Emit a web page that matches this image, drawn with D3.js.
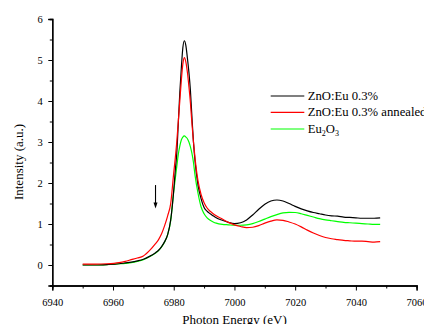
<!DOCTYPE html>
<html><head><meta charset="utf-8">
<script src="https://cdn.jsdelivr.net/npm/d3@7"></script>
<style>
html,body{margin:0;padding:0;background:#fff;}
svg{display:block;}
svg text{font-family:'Liberation Serif','Times New Roman','DejaVu Serif',serif !important;}
</style></head>
<body>
<script>
const energy = [6950,6954,6958,6962,6964,6966,6968,6970,6972,6974,6975,6976,6977,6978,6979,6980,6980.5,6981,6981.5,6982,6982.5,6983,6983.5,6984,6984.5,6985,6985.5,6986,6986.5,6987,6988,6989,6990,6991,6992,6993,6994,6996,6998,7000,7002,7004,7006,7008,7010,7012,7014,7016,7018,7020,7022,7024,7026,7028,7030,7032,7034,7036,7038,7040,7042,7044,7046,7048];
const znoEu = [0.00,0.00,0.01,0.03,0.05,0.07,0.10,0.14,0.21,0.30,0.36,0.45,0.57,0.74,1.10,1.82,2.3,2.72,3.45,4.2,4.8,5.3,5.47,5.35,5.05,4.7,4.25,3.6,3.0,2.55,1.95,1.62,1.40,1.31,1.25,1.20,1.15,1.09,1.04,1.01,1.03,1.10,1.22,1.36,1.48,1.56,1.585,1.56,1.50,1.43,1.37,1.32,1.28,1.25,1.22,1.20,1.19,1.17,1.16,1.15,1.14,1.14,1.14,1.15];
const znoEuAnnealed = [0.02,0.02,0.03,0.06,0.09,0.13,0.17,0.22,0.35,0.52,0.62,0.76,0.96,1.2,1.5,2.25,2.6,3.0,3.5,4.0,4.5,4.9,5.06,4.95,4.7,4.35,3.95,3.45,3.0,2.62,2.05,1.72,1.52,1.39,1.31,1.25,1.20,1.12,1.04,0.98,0.94,0.91,0.92,0.96,1.02,1.07,1.10,1.09,1.05,1.00,0.93,0.85,0.78,0.72,0.67,0.64,0.62,0.60,0.59,0.58,0.58,0.57,0.56,0.57];
const eu2o3 = [0.00,0.00,0.01,0.03,0.04,0.06,0.09,0.13,0.20,0.29,0.35,0.44,0.56,0.74,1.08,1.8,2.1,2.4,2.7,2.9,3.05,3.12,3.15,3.12,3.08,3.0,2.88,2.72,2.5,2.2,1.75,1.42,1.25,1.15,1.09,1.05,1.02,0.99,0.98,0.97,0.97,0.98,1.01,1.06,1.12,1.18,1.23,1.27,1.285,1.28,1.25,1.21,1.17,1.13,1.10,1.08,1.06,1.04,1.03,1.02,1.01,1.00,0.99,0.99];
const seriesNames = ["ZnO:Eu 0.3%","ZnO:Eu 0.3% annealed","Eu2O3"];
const seriesColors = ["#000000","#ff0000","#00ff00"];
const xTicks = [6940,6960,6980,7000,7020,7040,7060];
const yTicks = [0,1,2,3,4,5,6];
const arrowX = 6974, arrowY = [1.95, 1.38];

const W=424,H=324;
const svg=d3.select("body").append("svg").attr("width",W).attr("height",H);
const x=d3.scaleLinear().domain([6940,7060]).range([52.3,416.6]);
const y=d3.scaleLinear().domain([-0.5,6]).range([285.5,19]);

// axes
const xAxis=svg.append("g").attr("transform","translate(0,285.5)");
xAxis.call(d3.axisBottom(x).tickValues(xTicks).tickSize(5).tickFormat(d3.format("d")));
xAxis.append("g").call(d3.axisBottom(x).tickValues(d3.range(6950,7060,20)).tickSize(3).tickFormat(""));
const yAxis=svg.append("g").attr("transform","translate(52.3,0)");
yAxis.call(d3.axisLeft(y).tickValues(yTicks).tickSize(4).tickFormat(d3.format("d")));
yAxis.append("g").call(d3.axisLeft(y).tickValues(d3.range(-0.5,6,1)).tickSize(2.5).tickFormat(""));
svg.selectAll("g").attr("font-family",null);
svg.selectAll(".domain").attr("stroke","#000").attr("stroke-width",1.3);
svg.selectAll(".tick line").attr("stroke","#000").attr("stroke-width",1);
svg.selectAll(".tick text").attr("font-size",10.5).attr("fill","#000");
xAxis.selectAll(".tick text").attr("dy","1.15em");
yAxis.selectAll(".tick text").attr("dx","-0.25em");

// lines
const all=[znoEu,znoEuAnnealed,eu2o3];
const line=d3.line().x((d,i)=>x(energy[i])).y(d=>y(d)).curve(d3.curveMonotoneX);
[2,0,1].forEach(k=>{
  svg.append("path").datum(all[k]).attr("d",line).attr("fill","none")
    .attr("stroke",seriesColors[k]).attr("stroke-width",1.2);
});

// arrow
svg.append("line").attr("x1",x(arrowX)).attr("x2",x(arrowX)).attr("y1",y(arrowY[0])).attr("y2",y(arrowY[1])-4)
  .attr("stroke","#000").attr("stroke-width",1.1);
const ax=x(arrowX), ay=y(arrowY[1]);
svg.append("path").attr("d",`M${ax-2},${ay-6}L${ax+2},${ay-6}L${ax},${ay}Z`).attr("fill","#000");

// legend
const lg=svg.append("g");
const ly=[96,112.3,129];
seriesNames.forEach((n,i)=>{
  lg.append("line").attr("x1",270.7).attr("x2",304.3).attr("y1",ly[i]).attr("y2",ly[i])
    .attr("stroke",seriesColors[i]).attr("stroke-width",1.2);
});
const fs=12.7;
lg.append("text").attr("x",307.7).attr("y",ly[0]+4).attr("font-size",fs).text(seriesNames[0]);
lg.append("text").attr("x",307.7).attr("y",ly[1]+4).attr("font-size",fs).text(seriesNames[1]);
const t3=lg.append("text").attr("x",307.7).attr("y",ly[2]+4).attr("font-size",fs);
t3.append("tspan").text("Eu");
t3.append("tspan").attr("font-size",8).attr("dy",3).text("2");
t3.append("tspan").attr("dy",-3).text("O");
t3.append("tspan").attr("font-size",8).attr("dy",3).text("3");

// axis titles
svg.append("text").attr("transform","translate(23,162) rotate(-90)").attr("text-anchor","middle")
  .attr("font-size",13).text("Intensity (a.u.)");
svg.append("text").attr("x",234.5).attr("y",324).attr("text-anchor","middle")
  .attr("font-size",13).text("Photon Energy (eV)");
</script>
</body></html>
